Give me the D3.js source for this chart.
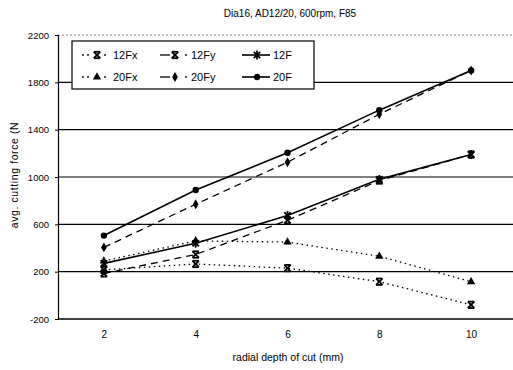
<!DOCTYPE html>
<html>
<head>
<meta charset="utf-8">
<script src="https://cdn.jsdelivr.net/npm/d3@7"></script>
<style>
  body { margin: 0; background: #fff; }
  text { font-family: "Liberation Sans", Arial, sans-serif; fill: #000; }
</style>
</head>
<body>
<div id="chart"></div>
<script>
// data
const depth = [2, 4, 6, 8, 10];
const f12x = [215, 265, 230, 115, -80];
const f12y = [185, 345, 635, 970, 1190];
const f12 = [270, 440, 675, 980, 1190];
const f20x = [290, 460, 450, 330, 115];
const f20y = [405, 770, 1125, 1530, 1900];
const f20 = [505, 890, 1205, 1565, 1900];
const yTicks = [-200, 200, 600, 1000, 1400, 1800, 2200];

const series = [
  { name: "12Fx", values: f12x, dash: "1.5,3.5", sym: "x" },
  { name: "12Fy", values: f12y, dash: "7,5", sym: "x" },
  { name: "12F", values: f12, dash: null, sym: "star" },
  { name: "20Fx", values: f20x, dash: "1.5,3.5", sym: "tri" },
  { name: "20Fy", values: f20y, dash: "7,5", sym: "dia" },
  { name: "20F", values: f20, dash: null, sym: "circ" }
];

const W = 513, H = 370;
const margin = { top: 35, right: -4, bottom: 51, left: 58 };
const width = W - margin.left - margin.right,
  height = H - margin.top - margin.bottom;

const svg = d3.select("#chart").append("svg")
  .attr("width", W).attr("height", H);
const g = svg.append("g")
  .attr("transform", `translate(${margin.left},${margin.top})`);

const x = d3.scaleLinear().domain([1, 11]).range([0, width]);
const y = d3.scaleLinear().domain([-200, 2200]).range([height, 0]);

// grid lines
g.selectAll(".grid").data(yTicks).enter().append("line")
  .attr("x1", 0).attr("x2", width)
  .attr("y1", d => y(d)).attr("y2", d => y(d))
  .attr("stroke", d => d == 2200 ? "#888" : "#000")
  .attr("stroke-dasharray", d => d == 2200 ? "2,2" : null)
  .attr("stroke-width", d => d == -200 ? 1.5 : 1.2);

// y axis
const yAxis = g.append("g").call(d3.axisLeft(y).tickValues(yTicks).tickSize(3).tickFormat(d3.format("d")));
yAxis.select(".domain").attr("stroke-width", 1.2);
yAxis.selectAll("text").style("font-size", "9.5px").attr("dx", "-3px")
  .text(d => d < 0 ? "-" + Math.abs(d) : d);

// x tick labels
const xAxis = g.append("g").attr("transform", `translate(0,${height})`)
  .call(d3.axisBottom(x).tickValues(depth).tickSize(0).tickPadding(12));
xAxis.select(".domain").remove();
xAxis.selectAll("text").style("font-size", "10px");

function drawSym(sel, type, cx, cy) {
  if (type == "circ") {
    sel.append("circle").attr("cx", cx).attr("cy", cy).attr("r", 3.2).attr("fill", "#000");
  } else if (type == "dia") {
    sel.append("path").attr("d", d3.symbol(d3.symbolDiamond, 28)())
      .attr("transform", `translate(${cx},${cy})`).attr("fill", "#000");
  } else if (type == "tri") {
    sel.append("path").attr("d", d3.symbol(d3.symbolTriangle, 30)())
      .attr("transform", `translate(${cx},${cy})`).attr("fill", "#000");
  } else {
    const s = 3.2;
    const p = sel.append("g").attr("transform", `translate(${cx},${cy})`)
      .attr("stroke", "#000").attr("stroke-width", 1.8);
    p.append("line").attr("x1", -s).attr("y1", -s).attr("x2", s).attr("y2", s);
    p.append("line").attr("x1", -s).attr("y1", s).attr("x2", s).attr("y2", -s);
    if (type == "star") {
      p.append("line").attr("x1", 0).attr("y1", -s - 1.2).attr("x2", 0).attr("y2", s + 1.2);
    } else {
      p.append("line").attr("x1", -s).attr("y1", -s).attr("x2", s).attr("y2", -s);
      p.append("line").attr("x1", -s).attr("y1", s).attr("x2", s).attr("y2", s);
    }
  }
}

const line = d3.line().x((d, i) => x(depth[i])).y(d => y(d));
series.forEach(s => {
  g.append("path").datum(s.values)
    .attr("fill", "none").attr("stroke", "#000")
    .attr("stroke-width", s.dash == null ? 1.6 : 1.3)
    .attr("stroke-dasharray", s.dash)
    .attr("d", line);
  s.values.forEach((v, i) => drawSym(g, s.sym, x(depth[i]), y(v)));
});

// legend
const lg = svg.append("g").attr("transform", "translate(72,41)");
lg.append("rect").attr("width", 242).attr("height", 48)
  .attr("fill", "#fff").attr("stroke", "#000").attr("stroke-width", 1.2);
const colX = [10, 88, 170];
series.forEach((s, i) => {
  const cx = colX[i % 3], cy = i < 3 ? 14 : 36;
  const gg = lg.append("g");
  if (s.dash == null) {
    gg.append("line").attr("x1", cx).attr("x2", cx + 28).attr("y1", cy).attr("y2", cy)
      .attr("stroke", "#000").attr("stroke-width", 1.6);
  } else if (s.dash == "7,5") {
    gg.append("line").attr("x1", cx).attr("x2", cx + 10).attr("y1", cy).attr("y2", cy)
      .attr("stroke", "#000").attr("stroke-width", 1.3);
    gg.append("circle").attr("cx", cx + 26).attr("cy", cy).attr("r", 0.9).attr("fill", "#000");
  } else {
    [cx + 1, cx + 6, cx + 23].forEach(d => gg.append("circle").attr("cx", d).attr("cy", cy).attr("r", 0.9).attr("fill", "#000"));
  }
  drawSym(gg, s.sym, cx + 15, cy);
  lg.append("text").attr("x", cx + 31).attr("y", cy + 4).style("font-size", "11px").text(s.name);
});

// titles
svg.append("text").attr("x", 290).attr("y", 17).attr("text-anchor", "middle")
  .style("font-size", "10px").text("Dia16, AD12/20, 600rpm, F85");
svg.append("text").attr("x", 288).attr("y", 361).attr("text-anchor", "middle")
  .style("font-size", "10.5px").text("radial depth of cut (mm)");
svg.append("text").attr("transform", "translate(18,175) rotate(-90)").attr("text-anchor", "middle")
  .style("font-size", "10.5px").style("letter-spacing", "0.6px").text("avg. cutting force (N");
</script>
</body>
</html>
